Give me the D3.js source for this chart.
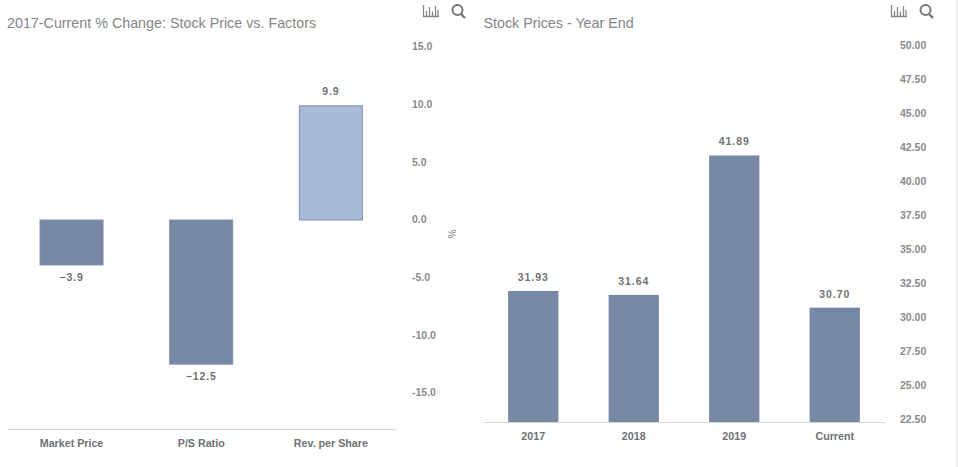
<!DOCTYPE html>
<html><head><meta charset="utf-8">
<script src="https://cdn.jsdelivr.net/npm/d3@7"></script>
<style>html,body{margin:0;padding:0;background:#fff;overflow:hidden}svg{display:block}
text{font-family:"Liberation Sans",Arial,sans-serif}</style></head>
<body><svg id="c" width="958" height="467"></svg>
<script>
const leftTitle = "2017-Current % Change: Stock Price vs. Factors";
const leftCats = ["Market Price","P/S Ratio","Rev. per Share"];
const leftVals = [-3.9,-12.5,9.9];
const leftColors = ["#7788a5","#7788a5","#a9bad6"];
const leftTicks = [15,10,5,0,-5,-10,-15];
const rightTitle = "Stock Prices - Year End";
const rightCats = ["2017","2018","2019","Current"];
const rightVals = [31.93,31.64,41.89,30.70];
const rightTicks = [50,47.5,45,42.5,40,37.5,35,32.5,30,27.5,25,22.5];

const svg = d3.select("#c");
const grey = "#8a8a8a", lab = "#707074";
svg.append("rect").attr("x",956).attr("y",0).attr("width",2).attr("height",467).attr("fill","#f0f0f0");

function title(x,t){svg.append("text").attr("x",x).attr("y",27.5).attr("font-size",14.3).attr("fill","#85858b").text(t);}
function icons(x){
  const g=svg.append("g").attr("transform",`translate(${x},4)`).attr("fill","none").attr("stroke","#8a8490");
  g.append("path").attr("d","M0.5 1V12.5H16M3.5 12V7M6.5 12V3M9.5 12V7.5M12.5 12V2M15 12V6").attr("stroke-width",1.3);
  g.append("circle").attr("cx",34.5).attr("cy",6).attr("r",5).attr("stroke","#777").attr("stroke-width",2);
  g.append("path").attr("d","M38 10L42 14").attr("stroke","#777").attr("stroke-width",2.4);
}
function valueLabels(cats,vals,x,y,base,fmt,up){
  svg.append("g").selectAll("text").data(vals).join("text")
    .attr("x",(d,i)=>x(cats[i])+x.bandwidth()/2)
    .attr("y",d=>d<base?y(d)+16:y(d)-up)
    .attr("text-anchor","middle").attr("font-weight","bold")
    .attr("letter-spacing",0.9).attr("fill",lab).attr("font-family","'DejaVu Sans'").attr("font-size",10.5)
    .text(fmt);
}
function catAxis(x,y0,pad){
  const g=svg.append("g").attr("transform",`translate(0,${y0})`)
    .call(d3.axisBottom(x).tickSize(0).tickPadding(pad));
  g.select(".domain").attr("stroke","#d5d7da").attr("stroke-width",1);
  g.selectAll("text").attr("font-size",10.7).attr("font-weight","bold").attr("fill",lab).style("font-family","'Liberation Sans'");
}
function valAxis(xp,yo,y,ticks,fmt){
  const g=svg.append("g").attr("transform",`translate(${xp},${yo})`)
    .call(d3.axisRight(y).tickValues(ticks).tickFormat(fmt).tickSize(0).tickPadding(0));
  g.select(".domain").remove();
  g.selectAll("text").attr("font-size",10.5).attr("font-weight","bold").attr("fill",grey).style("font-family","'Liberation Sans'");
}

// left panel
title(7,leftTitle); icons(423);
const lx=d3.scaleBand().domain(leftCats).range([6.7,395.7]).paddingInner(0.514).paddingOuter(0.257);
const ly=d3.scaleLinear().domain([-15,15]).range([393,47]);
catAxis(lx,429,10);
valAxis(412,-0.7,ly,leftTicks,d=>d.toFixed(1));
svg.append("g").selectAll("rect").data(leftVals).join("rect")
  .attr("x",(d,i)=>lx(leftCats[i])).attr("width",lx.bandwidth())
  .attr("y",d=>Math.min(ly(d),ly(0))).attr("height",d=>Math.abs(ly(d)-ly(0)))
  .attr("fill",(d,i)=>leftColors[i]).attr("stroke","#8191ad").attr("stroke-width",1);
valueLabels(leftCats,leftVals,lx,ly,0,d=>d<0?"\u2212"+Math.abs(d).toFixed(1):d.toFixed(1),11);
svg.append("text").attr("transform","translate(451,234) rotate(90)").attr("text-anchor","middle")
  .attr("dy","0.32em").attr("font-size",10).attr("fill","#777").text("%");

// right panel
title(483.5,rightTitle); icons(891);
const rx=d3.scaleBand().domain(rightCats).range([483,885]).paddingInner(0.5).paddingOuter(0.25);
const ry=d3.scaleLinear().domain([22.5,50]).range([419.2,45.2]);
svg.append("g").selectAll("rect").data(rightVals).join("rect")
  .attr("x",(d,i)=>rx(rightCats[i])).attr("width",rx.bandwidth())
  .attr("y",d=>ry(d)).attr("height",d=>422-ry(d)).attr("fill","#7788a5");
valueLabels(rightCats,rightVals,rx,ry,0,d=>d.toFixed(2),10);
catAxis(rx,422,10);
valAxis(900,0,ry,rightTicks,d=>d.toFixed(2));
</script></body></html>
